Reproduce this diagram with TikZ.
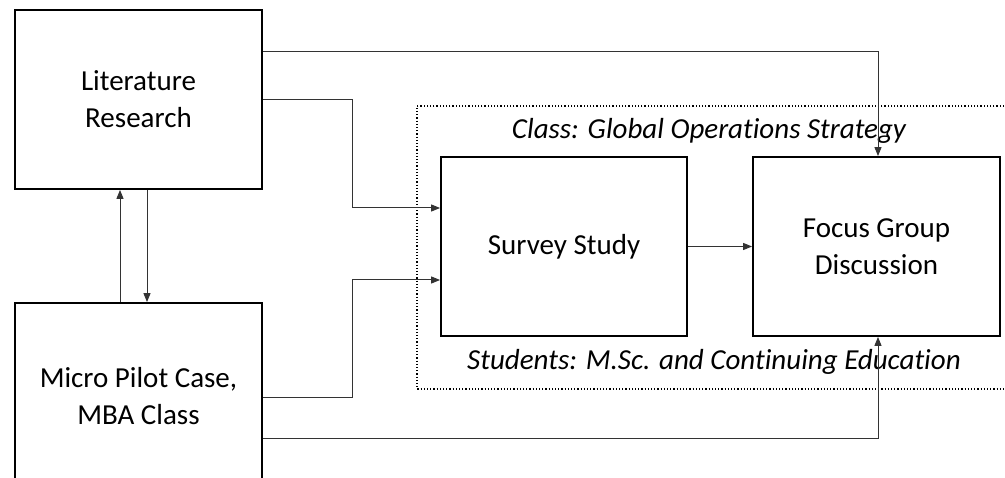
\documentclass[tikz,border=0pt]{standalone}
\usepackage{fontspec}
\setmainfont{Carlito}[Ligatures=NoCommon]
\usetikzlibrary{arrows.meta,calc}
\begin{document}
\begin{tikzpicture}[x=1pt,y=-1pt,
  box/.style={draw=black,line width=1.8pt,minimum width=247pt,minimum height=179pt,inner sep=0pt,align=center,font=\fontsize{29}{37}\selectfont},
  conn/.style={draw=black!80,line width=1pt},
  arr/.style={conn,-{Triangle[length=9pt,width=7pt]}},
  lbl/.style={font=\fontsize{29}{37}\selectfont\itshape,inner sep=0pt}]
\useasboundingbox (0,0) rectangle (1005,478);
\clip (0,0) rectangle (1005,478);
\fill[white] (0,0) rectangle (1005,478);
% dotted frame
\draw[dotted,line width=1.2pt] (1020,106) -- (417,106) -- (417,389) -- (1020,389);
% boxes
\node[box] (lit) at (138.5,99.5) {Literature\\Research};
\node[box,minimum height=186pt] (micro) at (138.5,396) {Micro Pilot Case,\\MBA Class};
\node[box,minimum width=246pt] (survey) at (564,246.5) {Survey Study};
\node[box] (focus) at (876.5,246.5) {Focus Group\\Discussion};
% labels
\node[lbl] (cls) at (709,131) {Class: Global Operations Strategy};
\node[lbl] (stu) at (714,362) {Students: M.Sc. and Continuing Education};
% helper coordinates
\coordinate (litA) at ([yshift=-42pt]lit.north east);
\coordinate (litB) at ([yshift=-90pt]lit.north east);
\coordinate (micA) at ([yshift=-2pt]micro.east);
\coordinate (micB) at ([yshift=-43pt]micro.east);
\coordinate (svA) at ([yshift=38.5pt]survey.west);
\coordinate (svB) at ([yshift=-33.5pt]survey.west);
\coordinate (jx) at (352,0);
\coordinate (fx) at (878,0);
% connectors
\draw[arr] (litA) -- (litA -| fx) -- (fx |- focus.north);
\draw[arr] (litB) -- (litB -| jx) -- (jx |- svA) -- (svA);
\draw[arr] (micA) -- (micA -| jx) -- (jx |- svB) -- (svB);
\draw[arr] (micB) -- (micB -| fx) -- (fx |- focus.south);
\draw[arr] ([xshift=-18.5pt]micro.north) -- ([xshift=-18.5pt]lit.south);
\draw[arr] ([xshift=8.5pt]lit.south) -- ([xshift=8.5pt]micro.north);
\draw[arr] (survey.east) -- (focus.west);
\end{tikzpicture}
\end{document}
